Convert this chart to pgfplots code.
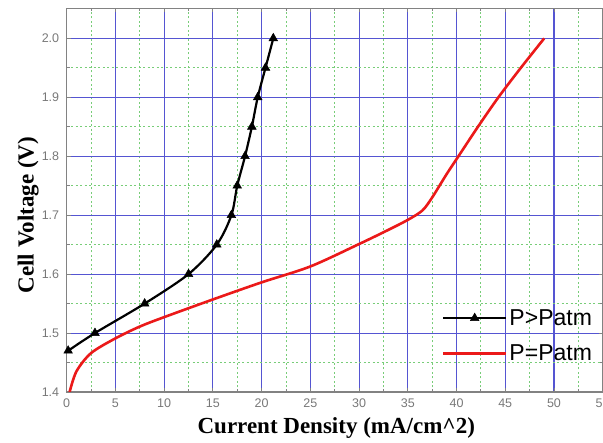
\documentclass[border=0pt]{standalone}
\usepackage{fontspec}
\setmainfont{Liberation Serif}
\newfontfamily\arial{Liberation Sans}
\usepackage{pgfplots}
\pgfplotsset{compat=1.18}
\definecolor{majgrid}{RGB}{85,85,210}
\definecolor{mingrid}{RGB}{120,205,120}
\definecolor{frame}{RGB}{130,130,130}
\definecolor{redline}{RGB}{235,25,25}
\definecolor{ticklab}{RGB}{120,120,120}
\begin{document}
\begin{tikzpicture}[x=1pt,y=1pt]
\begin{axis}[
  at={(0,0)}, anchor=south west,
  scale only axis,
  width=536pt, height=383.7pt,
  xmin=0, xmax=55, ymin=1.4, ymax=2.051,
  xtick={0,5,10,15,20,25,30,35,40,45,50,55},
  ytick={1.4,1.5,1.6,1.7,1.8,1.9,2.0},
  yticklabels={1.4,1.5,1.6,1.7,1.8,1.9,2.0},
  minor xtick={2.5,7.5,12.5,17.5,22.5,27.5,32.5,37.5,42.5,47.5,52.5},
  minor ytick={1.45,1.55,1.65,1.75,1.85,1.95,2.05},
  grid=both,
  major grid style={majgrid, line width=1.1pt},
  minor grid style={mingrid, dash pattern=on 2pt off 2.5pt, line width=0.9pt},
  axis line style={frame, line width=1.4pt},
  tick style={frame, line width=0.8pt},
  major tick length=4pt, minor tick length=3pt,
  tick align=inside,
  /pgf/number format/assume math mode=true,
  ticklabel style={font=\arial\fontsize{12.5}{14}\selectfont, text=ticklab},
  xticklabel style={yshift=-3pt},
  yticklabel style={xshift=-4pt},
  xlabel={Current Density (mA/cm\^{}2)},
  ylabel={Cell Voltage (V)},
  label style={font=\bfseries\fontsize{23}{26}\selectfont},
  xlabel style={at={(axis description cs:0.503,-0.094)}, anchor=center},
  ylabel style={at={(axis description cs:-0.072,0.461)}, anchor=center},
  legend style={draw=none, fill=none, at={(axis description cs:0.694,0.226)}, anchor=north west,
    font=\arial\fontsize{23}{25}\selectfont, row sep=14pt,
    /tikz/every odd column/.append style={xshift=5pt}},
  legend cell align=left,
  legend image code/.code={\draw[mark repeat=2,mark phase=2,#1] plot coordinates {(0pt,0pt) (31.5pt,0pt) (63pt,0pt)};},
]
\addplot[black, line width=2.2pt, smooth, mark=triangle*, mark size=5pt, mark options={solid, line width=0.5pt}] coordinates {
(0.15,1.47) (2.9,1.50) (8.0,1.55) (12.5,1.60) (15.4,1.65) (16.9,1.70) (17.5,1.75) (18.3,1.80) (19.0,1.85) (19.6,1.90) (20.4,1.95) (21.2,2.00)
};
\addlegendentry{P>Patm}
\addplot[redline, line width=2.6pt, smooth, tension=0.5] coordinates {
(0.3,1.40) (1,1.435) (2.5,1.466) (5,1.491) (7.5,1.511) (10,1.527) (15,1.557) (20,1.586) (25,1.613) (30,1.651) (33,1.675) (35,1.692) (36.5,1.708) (37.5,1.73) (39,1.77) (40.2,1.80) (42.2,1.85) (44.3,1.90) (46.6,1.95) (49,2.00)
};
\addlegendentry{P=Patm}
\end{axis}
\pgfresetboundingbox
\useasboundingbox (-66.7,-51) rectangle (536.3,392);
\end{tikzpicture}
\end{document}
